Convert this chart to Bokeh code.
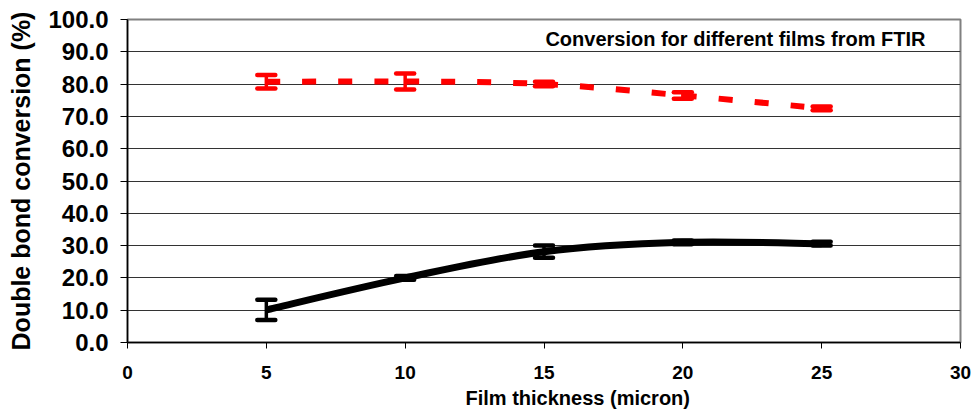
import numpy as np
from bokeh.plotting import figure
from bokeh.models import (ColumnDataSource, Whisker, TeeHead, Label, Title,
                          FixedTicker, Range1d, NumeralTickFormatter)
from bokeh.embed import file_html
from bokeh.resources import INLINE

# ---------------- data ----------------
thickness = [5, 10, 15, 20, 25]
conv_black = [10.1, 20.0, 28.1, 31.0, 30.6]
err_black = [3.15, 0.6, 1.9, 0.6, 0.6]
conv_red = [80.7, 80.8, 80.0, 76.5, 72.5]
err_red = [2.1, 2.5, 0.7, 1.0, 0.6]
x_ticks = [0, 5, 10, 15, 20, 25, 30]
y_ticks = [0, 10, 20, 30, 40, 50, 60, 70, 80, 90, 100]
chart_title = "Conversion for different films from FTIR"
x_title = "Film thickness (micron)"
y_title = "Double bond conversion (%)"

FONT = "Liberation Sans"


def smooth_segments(xs, ys):
    """Excel-style smoothed line as cubic Bezier segments through the data points."""
    xs = np.asarray(xs, float)
    ys = np.asarray(ys, float)
    n = len(xs)
    seg = dict(x0=[], y0=[], x1=[], y1=[], cx0=[], cy0=[], cx1=[], cy1=[])
    for i in range(n - 1):
        p0 = i - 1 if i > 0 else i
        p3 = i + 2 if i + 2 < n else i + 1
        seg["x0"].append(xs[i]); seg["y0"].append(ys[i])
        seg["x1"].append(xs[i + 1]); seg["y1"].append(ys[i + 1])
        seg["cx0"].append(xs[i] + (xs[i + 1] - xs[p0]) / 6.0)
        seg["cy0"].append(ys[i] + (ys[i + 1] - ys[p0]) / 6.0)
        seg["cx1"].append(xs[i + 1] - (xs[p3] - xs[i]) / 6.0)
        seg["cy1"].append(ys[i + 1] - (ys[p3] - ys[i]) / 6.0)
    return ColumnDataSource(seg)


p = figure(width=972, height=413, output_backend="svg", toolbar_location=None,
           x_range=Range1d(0, 30), y_range=Range1d(0, 100),
           min_border_left=127, min_border_right=12, min_border_top=19,
           min_border_bottom=71, background_fill_color="white",
           border_fill_color="white")

p.outline_line_color = "#808080"
p.outline_line_width = 2

# axes
p.xaxis.ticker = FixedTicker(ticks=x_ticks)
p.yaxis.ticker = FixedTicker(ticks=y_ticks)
p.yaxis.formatter = NumeralTickFormatter(format="0.0")
for ax in (p.xaxis, p.yaxis):
    ax.axis_line_color = "black"
    ax.axis_line_width = 1.5
    ax.major_tick_line_color = "black"
    ax.major_tick_in = 0
    ax.minor_tick_line_color = None
    ax.major_label_text_font = FONT
    ax.major_label_text_font_style = "bold"
    ax.major_label_text_color = "black"
p.xaxis.major_tick_out = 6
p.yaxis.major_tick_out = 7
p.xaxis.major_label_text_font_size = "19px"
p.yaxis.major_label_text_font_size = "24px"
p.xaxis.major_label_standoff = 17
p.yaxis.major_label_standoff = 12

p.yaxis.axis_label = y_title
p.yaxis.axis_label_text_font = FONT
p.yaxis.axis_label_text_font_style = "bold"
p.yaxis.axis_label_text_font_size = "25px"
p.yaxis.axis_label_text_color = "black"
p.yaxis.axis_label_standoff = 10

p.xgrid.grid_line_color = None
p.ygrid.ticker = FixedTicker(ticks=y_ticks)
p.ygrid.grid_line_color = "#333333"
p.ygrid.grid_line_width = 1

xt = Title(text=x_title, align="left", offset=338, text_font=FONT,
           text_font_style="bold", text_font_size="20px", text_color="black",
           standoff=6)
p.add_layout(xt, "below")

# smoothed lines
src_b = smooth_segments(thickness, conv_black)
src_r = smooth_segments(thickness, conv_red)
p.bezier(x0="x0", y0="y0", x1="x1", y1="y1", cx0="cx0", cy0="cy0",
         cx1="cx1", cy1="cy1", source=src_b, line_color="black", line_width=7)
p.bezier(x0="x0", y0="y0", x1="x1", y1="y1", cx0="cx0", cy0="cy0",
         cx1="cx1", cy1="cy1", source=src_r, line_color="#ff0000", line_width=6,
         line_dash="14 22")

# error bars
eb = ColumnDataSource(dict(
    x=thickness,
    up=[v + e for v, e in zip(conv_black, err_black)],
    lo=[v - e for v, e in zip(conv_black, err_black)]))
er = ColumnDataSource(dict(
    x=thickness,
    up=[v + e for v, e in zip(conv_red, err_red)],
    lo=[v - e for v, e in zip(conv_red, err_red)]))
for src, col in ((eb, "black"), (er, "#ff0000")):
    w = Whisker(base="x", upper="up", lower="lo", source=src, dimension="height",
                line_color=col, line_width=3.5,
                upper_head=TeeHead(size=18, line_color=col, line_width=4.5,
                                   line_cap="round"),
                lower_head=TeeHead(size=18, line_color=col, line_width=4.5,
                                   line_cap="round"))
    p.add_layout(w)

# chart title inside the plot area
p.add_layout(Label(x=15.05, y=93.9, text=chart_title, text_font=FONT,
                   text_font_style="bold", text_font_size="20px",
                   text_color="black", text_baseline="alphabetic"))

open("out.html", "w").write(file_html(p, INLINE))
